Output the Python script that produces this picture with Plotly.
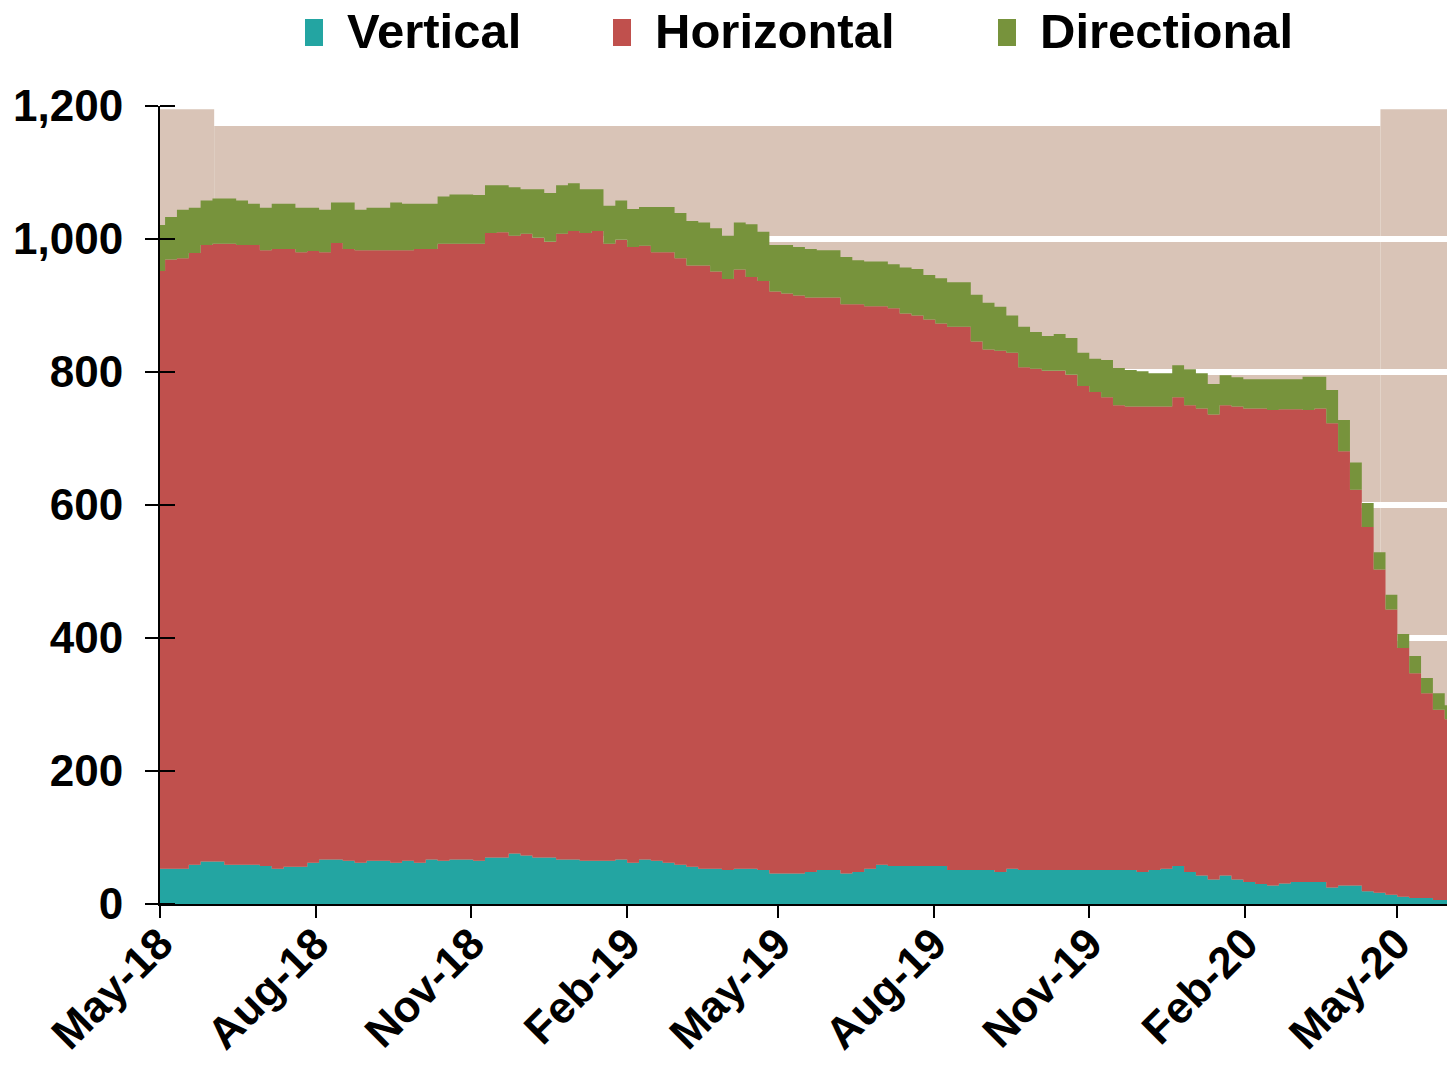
import pandas as pd
import plotly.graph_objects as go

# ---------------- data (weekly rig counts) ----------------
first_week = "2018-04-27"
weeks = pd.date_range(first_week, periods=110, freq="7D")

vertical = [
    53, 53, 53, 59, 64, 64, 59, 59, 59, 57,
    53, 56, 56, 62, 67, 67, 65, 62, 65, 65,
    62, 65, 62, 67, 65, 67, 67, 65, 70, 70,
    76, 73, 70, 70, 67, 67, 65, 65, 65, 67,
    62, 67, 65, 62, 59, 56, 53, 53, 51, 53,
    53, 51, 46, 46, 46, 48, 51, 51, 46, 48,
    53, 59, 57, 57, 57, 57, 57, 51, 51, 51,
    51, 48, 53, 51, 51, 51, 51, 51, 51, 51,
    51, 51, 51, 48, 51, 53, 57, 48, 43, 37,
    43, 37, 33, 30, 28, 31, 33, 33, 33, 25,
    28, 28, 19, 17, 14, 11, 9, 9, 6, 6,
]
horizontal = [
    899, 916, 918, 920, 927, 929, 934, 932, 932, 926,
    932, 929, 924, 920, 913, 927, 920, 921, 918, 918,
    921, 918, 923, 918, 928, 926, 926, 928, 939, 940,
    929, 935, 932, 926, 941, 945, 944, 947, 928, 932,
    926, 923, 915, 918, 912, 904, 907, 898, 889, 901,
    890, 886, 875, 872, 869, 864, 861, 861, 856, 854,
    846, 840, 839, 831, 828, 822, 816, 817, 817, 795,
    783, 784, 776, 756, 754, 751, 751, 745, 728, 719,
    711, 699, 697, 700, 697, 695, 705, 702, 702, 699,
    707, 711, 712, 715, 715, 713, 711, 710, 712, 698,
    653, 595, 548, 486, 429, 374, 338, 308, 286, 272,
]
directional = [
    69, 64, 73, 68, 67, 68, 68, 67, 62, 64,
    68, 68, 67, 65, 64, 61, 70, 61, 64, 64,
    72, 70, 68, 68, 71, 74, 74, 73, 72, 71,
    73, 67, 73, 73, 73, 72, 66, 63, 57, 59,
    57, 58, 68, 68, 68, 67, 65, 65, 65, 71,
    79, 74, 70, 73, 73, 73, 71, 71, 71, 66,
    67, 67, 66, 69, 70, 67, 68, 67, 67, 70,
    70, 66, 56, 61, 55, 52, 55, 55, 50, 50,
    56, 56, 55, 53, 50, 50, 48, 54, 53, 46,
    45, 44, 44, 44, 46, 45, 45, 50, 48, 50,
    47, 41, 36, 26, 22, 21, 26, 23, 25, 21,
]

series_names = ["Vertical", "Horizontal", "Directional"]
series_values = [vertical, horizontal, directional]

x_tick_vals = ["2018-05-01", "2018-08-01", "2018-11-01", "2019-02-01", "2019-05-01",
               "2019-08-01", "2019-11-01", "2020-02-01", "2020-05-01"]
x_tick_text = ["May-18", "Aug-18", "Nov-18", "Feb-19", "May-19",
               "Aug-19", "Nov-19", "Feb-20", "May-20"]
y_tick_vals = [0, 200, 400, 600, 800, 1000, 1200]
y_tick_text = ["0", "200", "400", "600", "800", "1,000", "1,200"]

# background band (tan), edges and heights
band_edges = ["2018-05-01", "2018-06-02", "2020-04-21", "2020-05-31"]
band_tops = [1195, 1170, 1195]

# ---------------- style ----------------
colors = ["#23A5A2", "#C0504D", "#77933C"]
band_color = "#D9C4B7"
FONT = "Liberation Sans, Arial, Helvetica, sans-serif"
x_range = ["2018-05-01", "2020-05-30 08:00"]

W, H = 1447, 1066
ML, MR, MT, MB = 160, 0, 106, 162
PW, PH = W - ML - MR, H - MT - MB


def px_x(px):
    return (px - ML) / PW


def px_y(py):
    return (H - MB - py) / PH


fig = go.Figure()

# extend each step series one week past the last reading so the last step is drawn
x_steps = list(weeks) + [weeks[-1] + pd.Timedelta(days=7)]
for name, vals, col in zip(series_names, series_values, colors):
    fig.add_trace(go.Scatter(
        x=x_steps, y=list(vals) + [vals[-1]], name=name,
        mode="lines", stackgroup="rigs",
        line=dict(width=0, shape="hv", color=col),
        fillcolor=col, showlegend=False,
        hovertemplate="%{x|%d %b %Y}: %{y}<extra>" + name + "</extra>",
    ))

# tan background band below gridlines
for i, top in enumerate(band_tops):
    fig.add_shape(type="rect", xref="x", yref="y",
                  x0=band_edges[i], x1=band_edges[i + 1], y0=0, y1=top,
                  fillcolor=band_color, line=dict(width=0), layer="below")

# custom legend
legend_swatch_px = [(305, 323), (613, 631), (998, 1016)]
legend_text_px = [345, 653, 1038]
for (sx0, sx1), tx, name, col in zip(legend_swatch_px, legend_text_px, series_names, colors):
    fig.add_shape(type="rect", xref="paper", yref="paper",
                  x0=px_x(sx0), x1=px_x(sx1), y0=px_y(46), y1=px_y(19),
                  fillcolor=col, line=dict(width=0))
    fig.add_annotation(xref="paper", yref="paper", x=px_x(tx), y=px_y(31),
                       xanchor="left", yanchor="middle", showarrow=False,
                       text=name, font=dict(family=FONT, size=49, color="black", weight="bold"))

# inner halves of the crossing y ticks (tiny offset so they are not merged with major ticks)
inner_tick_vals = [v - 0.01 if v > 0 else 0.01 for v in y_tick_vals]

fig.update_layout(
    width=W, height=H,
    margin=dict(l=ML, r=MR, t=MT, b=MB, pad=0, autoexpand=False),
    plot_bgcolor="white", paper_bgcolor="white",
    showlegend=False,
    font=dict(family=FONT, size=44, color="black", weight="bold"),
    xaxis=dict(
        type="date", range=x_range, automargin=False,
        tickmode="array", tickvals=x_tick_vals, ticktext=x_tick_text,
        tickangle=-45, ticks="outside", ticklen=12, tickwidth=2, tickcolor="black",
        ticklabelstandoff=-18,
        showline=True, linecolor="black", linewidth=2,
        showgrid=False, zeroline=False,
        tickfont=dict(family=FONT, size=44, color="black", weight="bold"),
    ),
    yaxis=dict(
        range=[0, 1200], automargin=False,
        tickmode="array", tickvals=y_tick_vals, ticktext=y_tick_text,
        ticks="outside", ticklen=13, tickwidth=2, tickcolor="black",
        showline=True, linecolor="black", linewidth=2,
        showgrid=True, gridcolor="white", gridwidth=6,
        zeroline=False, ticklabelstandoff=13,
        tickfont=dict(family=FONT, size=44, color="black", weight="bold"),
        minor=dict(tickmode="array", tickvals=inner_tick_vals, ticks="inside",
                   ticklen=15, tickwidth=2, tickcolor="black", showgrid=False),
    ),
)

fig.write_html("out.html", config={"displayModeBar": False},
               post_script="document.body.style.margin='0';document.body.style.overflow='hidden';")
